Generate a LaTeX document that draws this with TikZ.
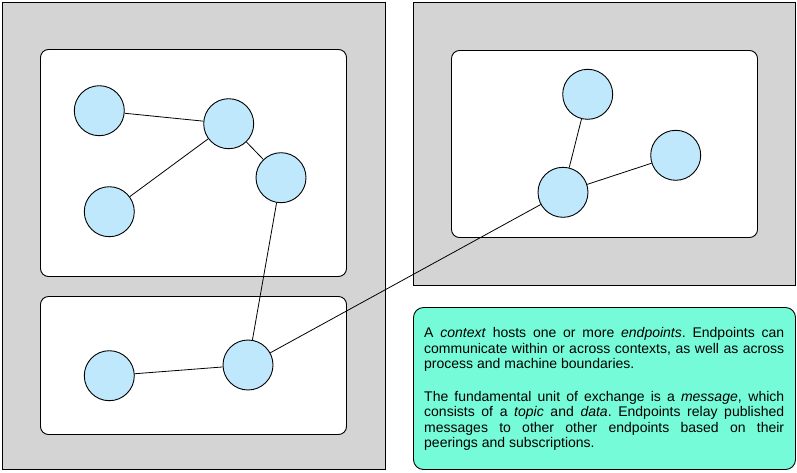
\documentclass[tikz,border=0pt]{standalone}
\usepackage{fontspec}
\setmainfont{Liberation Sans}
\newcommand{\jline}[1]{\hbox to 360pt{#1}}
\begin{document}
\begin{tikzpicture}[x=1pt,y=-1pt,
  outerbox/.style={draw=black,fill=boxgray,line width=1pt},
  innerbox/.style={draw=black,fill=white,line width=0.9pt,rounded corners=8pt},
  ep/.style={circle,draw=black,fill=epblue,line width=0.9pt,minimum size=50pt,inner sep=0pt},
  link/.style={draw=black,line width=0.8pt},
  notebox/.style={draw=black,fill=notegreen,line width=0.9pt,rounded corners=10pt}]
\definecolor{boxgray}{RGB}{212,212,212}
\definecolor{epblue}{RGB}{192,232,252}
\definecolor{notegreen}{RGB}{118,251,216}
\useasboundingbox (0,0) rectangle (797,472);
% outer boxes
\path[outerbox] (2,2) rectangle (385,469);
\path[outerbox] (413.5,2.5) rectangle (795.5,285.5);
% inner boxes
\path[innerbox] (40.5,49.5) rectangle (346.5,276.5);
\path[innerbox] (40.5,296.5) rectangle (346.5,434.5);
\path[innerbox] (451.5,50.5) rectangle (757.5,237.5);
% note box
\path[notebox] (413.5,307.5) rectangle (795.5,469.5);
% endpoints
\node[ep] (a) at (99.3,110.7) {};
\node[ep] (b) at (228.7,123.7) {};
\node[ep] (c) at (281,177.7) {};
\node[ep] (d) at (109.3,211.7) {};
\node[ep] (e) at (109.3,375.7) {};
\node[ep] (f) at (248,365) {};
\node[ep] (g) at (587.7,94.3) {};
\node[ep] (h) at (675.7,155.3) {};
\node[ep] (i) at (563,192.3) {};
% links
\draw[link] (a) -- (b);
\draw[link] (b) -- (d);
\draw[link] (b) -- (c);
\draw[link] (c) -- (f);
\draw[link] (e) -- (f);
\draw[link] (f) -- (i);
\draw[link] (i) -- (g);
\draw[link] (i) -- (h);
% note text
\node[anchor=north west,inner sep=0pt,font=\fontsize{14}{15.6}\selectfont] (note) at (424,327.2)
{\vbox{\baselineskip=15.6pt \lineskiplimit=-20pt
\spaceskip=3.89pt plus 1fil \xspaceskip=3.89pt plus 1fil
\jline{A \emph{context} hosts one or more \emph{endpoints}. Endpoints can}
\jline{communicate within or across contexts, as well as across}
\hbox{process and machine boundaries.}
\vskip 16.8pt
\jline{The fundamental unit of exchange is a \emph{message}, which}
\jline{consists of a \emph{topic} and \emph{data}. Endpoints relay published}
\jline{messages to other other endpoints based on their}
\hbox{peerings and subscriptions.}}};
\end{tikzpicture}
\end{document}
